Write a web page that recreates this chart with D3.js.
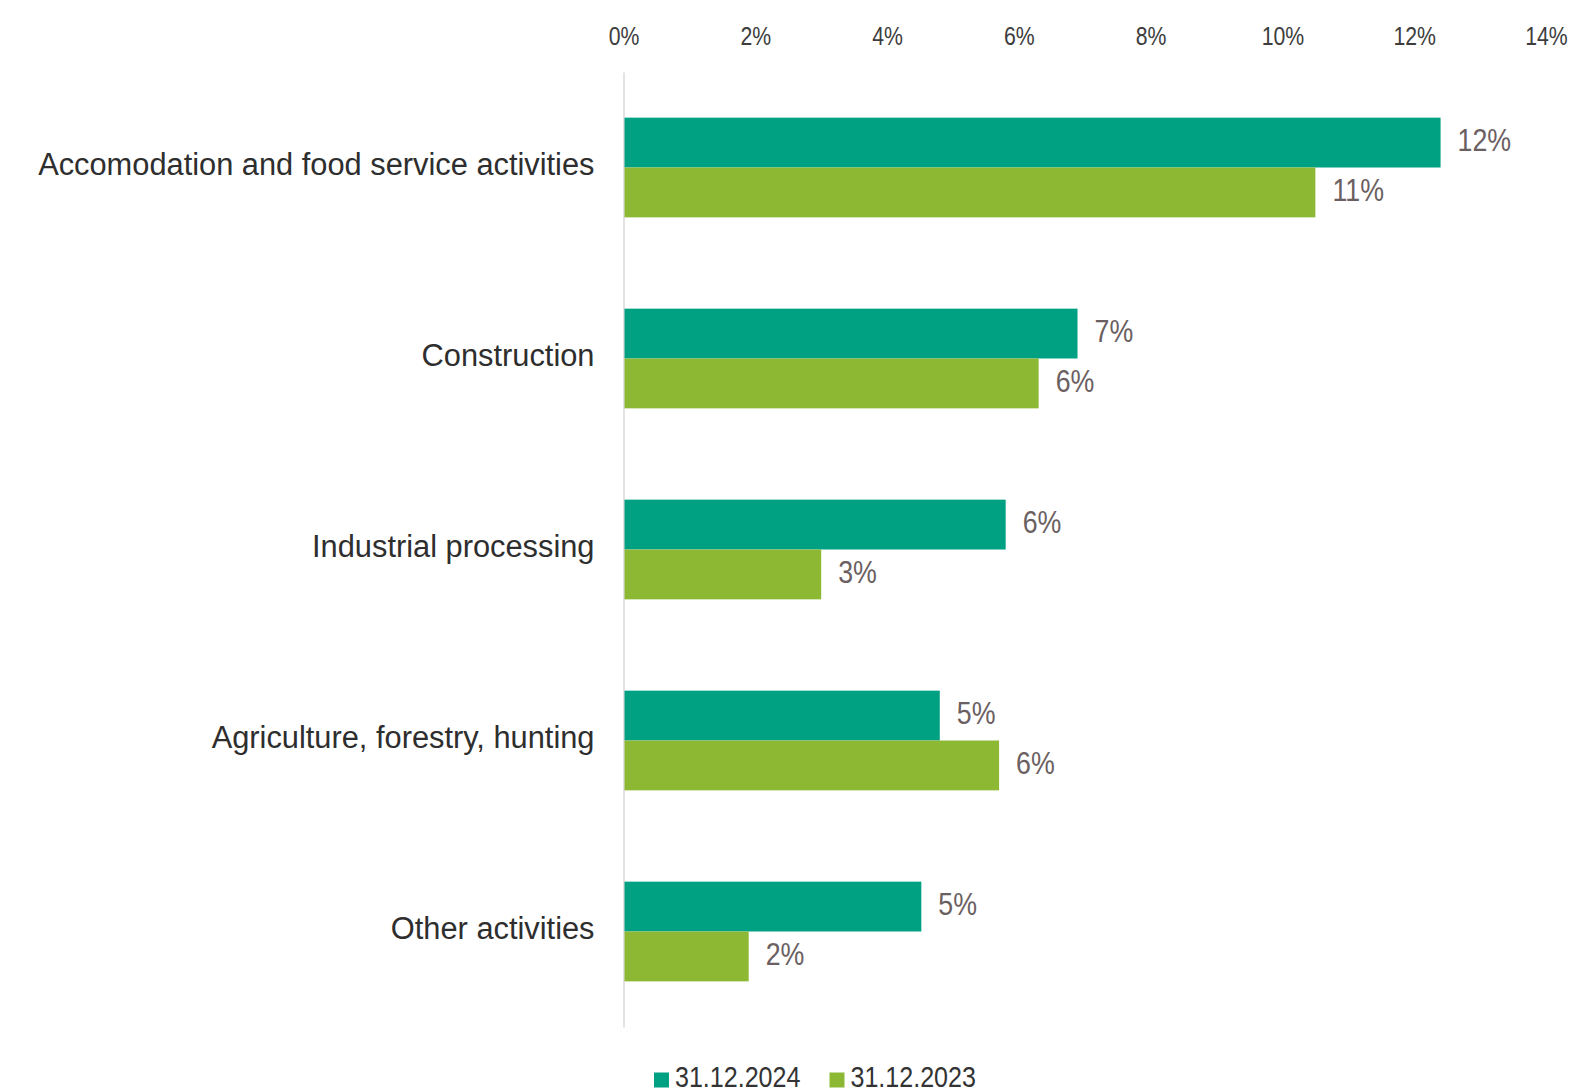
<!DOCTYPE html>
<html>
<head>
<meta charset="utf-8">
<script src="https://cdn.jsdelivr.net/npm/d3@7"></script>
<style>
  html, body { margin: 0; padding: 0; background: #ffffff; }
  svg { display: block; }
</style>
</head>
<body>
<svg id="chart" width="1594" height="1091"></svg>
<script>
// Share of loans by economic activity, two reporting dates
const categories = [
  "Accomodation and food service activities",
  "Construction",
  "Industrial processing",
  "Agriculture, forestry, hunting",
  "Other activities"
];
const seriesNames = ["31.12.2024", "31.12.2023"];
const values2024 = [0.124, 0.0689, 0.058, 0.048, 0.0452];
const values2023 = [0.105, 0.063, 0.030, 0.057, 0.019];
const tickValues = [0, 0.02, 0.04, 0.06, 0.08, 0.10, 0.12, 0.14];

const colors = { "31.12.2024": "#00a182", "31.12.2023": "#8cb834" };
const font = "'Liberation Sans', Arial, sans-serif";
// numbers are set in a horizontally condensed cut of the same face
const condense = 0.85;

const rows = categories.map((c, i) => ({
  category: c,
  values: [
    { series: seriesNames[0], value: values2024[i] },
    { series: seriesNames[1], value: values2023[i] }
  ]
}));

const svg = d3.select("#chart");

const x = d3.scaleLinear().domain([0, 0.14]).range([623.5, 1546]);
const y = d3.scaleBand().domain(categories).range([72, 1027])
  .paddingInner(0.478).paddingOuter(0.239);
const ySub = d3.scaleBand().domain(seriesNames).range([0, y.bandwidth()]).padding(0);
const pct = d3.format(".0%");

// top axis: tick labels only
const xAxis = d3.axisTop(x).tickValues(tickValues).tickFormat(pct).tickSize(0).tickPadding(0);
const axisG = svg.append("g").attr("transform", "translate(0,45)").call(xAxis);
axisG.select(".domain").remove();
axisG.selectAll("text")
  .attr("font-family", font)
  .attr("font-size", 25)
  .attr("fill", "#3d3d3d")
  .attr("dy", 0)
  .attr("transform", `scale(${condense},1)`);

// category axis line and labels
const yAxis = d3.axisLeft(y).tickSize(0).tickPadding(29);
const yG = svg.append("g").attr("transform", `translate(${x(0)},0)`).call(yAxis);
yG.select(".domain").attr("stroke", "#e6e1e3").attr("stroke-width", 2);
yG.selectAll("text")
  .attr("font-family", font)
  .attr("font-size", 30.8)
  .attr("fill", "#2e2e2e")
  .attr("dy", "0.25em");

// bars
const groups = svg.append("g").selectAll("g")
  .data(rows)
  .join("g")
  .attr("transform", d => `translate(0,${y(d.category)})`);

groups.selectAll("rect")
  .data(d => d.values)
  .join("rect")
  .attr("x", x(0) + 1)
  .attr("y", d => ySub(d.series))
  .attr("width", d => x(d.value) - x(0) - 1)
  .attr("height", ySub.bandwidth())
  .attr("fill", d => colors[d.series]);

// value labels
groups.selectAll("text.value")
  .data(d => d.values)
  .join("text")
  .attr("class", "value")
  .attr("transform", d => `translate(${x(d.value) + 17},${ySub(d.series) + ySub.bandwidth() / 2}) scale(${condense},1)`)
  .attr("dy", "0.27em")
  .attr("font-family", font)
  .attr("font-size", 31.5)
  .attr("fill", "#6b6061")
  .text(d => pct(d.value));

// legend
const legendX = [654, 829.5];
const legend = svg.append("g").selectAll("g")
  .data(seriesNames)
  .join("g")
  .attr("transform", (d, i) => `translate(${legendX[i]},0)`);
legend.append("rect")
  .attr("x", 0).attr("y", 1072.5)
  .attr("width", 15).attr("height", 15)
  .attr("fill", d => colors[d]);
legend.append("text")
  .attr("transform", `translate(21,1086.5) scale(${condense},1)`)
  .attr("font-family", font)
  .attr("font-size", 29.5)
  .attr("fill", "#333333")
  .text(d => d);
</script>
</body>
</html>
